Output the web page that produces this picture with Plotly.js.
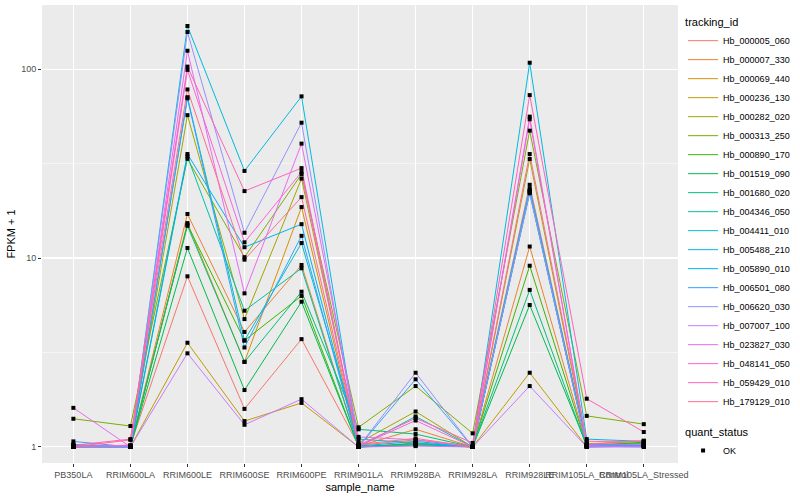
<!DOCTYPE html>
<html>
<head>
<meta charset="utf-8">
<script src="https://cdn.plot.ly/plotly-3.0.1.min.js"></script>
<style>html,body{margin:0;padding:0;background:#fff;}#chart{width:800px;height:500px;}</style>
</head>
<body>
<div id="chart"></div>
<script>
// categories (x axis)
const sample_name = ["PB350LA","RRIM600LA","RRIM600LE","RRIM600SE","RRIM600PE","RRIM901LA","RRIM928BA","RRIM928LA","RRIM928LE","RRIM105LA_Control","RRIM105LA_Stressed"];

// tracking ids (series names)
const tracking_id = ["Hb_000005_060","Hb_000007_330","Hb_000069_440","Hb_000236_130","Hb_000282_020","Hb_000313_250","Hb_000890_170","Hb_001519_090","Hb_001680_020","Hb_004346_050","Hb_004411_010","Hb_005488_210","Hb_005890_010","Hb_006501_080","Hb_006620_030","Hb_007007_100","Hb_023827_030","Hb_048141_050","Hb_059429_010","Hb_179129_010"];

// FPKM + 1 values per series, in sample_name order
const Hb_000005_060 = [1.01, 1.02, 8.0, 1.59, 3.72, 1.02, 1.09, 1.01, 24.4, 1.03, 1.05];
const Hb_000007_330 = [1.0, 1.01, 17.1, 4.06, 9.18, 1.01, 1.24, 1.0, 11.5, 1.02, 1.03];
const Hb_000069_440 = [1.0, 1.0, 15.3, 2.82, 18.6, 1.0, 1.05, 1.0, 22.6, 1.01, 1.02];
const Hb_000236_130 = [1.0, 1.0, 3.56, 1.37, 1.71, 1.0, 1.02, 1.0, 2.47, 1.0, 1.01];
const Hb_000282_020 = [1.02, 1.01, 57, 4.75, 26.3, 1.05, 1.54, 1.0, 33.4, 1.04, 1.07];
const Hb_000313_250 = [1.41, 1.29, 33.5, 10.1, 27.8, 1.27, 2.10, 1.18, 47.2, 1.46, 1.32];
const Hb_000890_170 = [1.0, 1.0, 15.0, 3.66, 6.30, 1.0, 1.03, 1.0, 9.1, 1.01, 1.06];
const Hb_001519_090 = [1.0, 1.0, 11.3, 2.0, 5.87, 1.0, 1.04, 1.0, 5.64, 1.02, 1.04];
const Hb_001680_020 = [1.0, 1.01, 14.8, 2.82, 6.63, 1.24, 1.17, 1.0, 6.78, 1.0, 1.03];
const Hb_004346_050 = [1.0, 1.0, 34.5, 5.26, 8.82, 1.0, 1.45, 1.0, 22.0, 1.01, 1.02];
const Hb_004411_010 = [1.01, 1.0, 71, 3.66, 12.0, 1.10, 1.05, 1.0, 23.3, 1.02, 1.01];
const Hb_005488_210 = [1.03, 1.0, 169, 28.9, 71.7, 1.0, 1.03, 1.01, 108, 1.10, 1.07];
const Hb_005890_010 = [1.02, 1.01, 35.5, 11.4, 15.1, 1.01, 1.07, 1.0, 22.9, 1.03, 1.02];
const Hb_006501_080 = [1.07, 1.0, 70, 3.36, 13.1, 1.0, 2.28, 1.0, 22.5, 1.01, 1.0];
const Hb_006620_030 = [1.0, 1.0, 157, 13.6, 52, 1.0, 2.47, 1.0, 22.2, 1.0, 1.01];
const Hb_007007_100 = [1.0, 1.0, 3.13, 1.31, 1.79, 1.0, 1.01, 1.0, 2.10, 1.0, 1.0];
const Hb_023827_030 = [1.61, 1.0, 125, 6.5, 40.3, 1.13, 1.09, 1.0, 56, 1.02, 1.03];
const Hb_048141_050 = [1.01, 1.02, 99, 12.1, 28.5, 1.01, 1.38, 1.0, 54.2, 1.03, 1.08];
const Hb_059429_010 = [1.02, 1.10, 103, 22.6, 29.9, 1.02, 1.42, 1.05, 72.8, 1.80, 1.20];
const Hb_179129_010 = [1.0, 1.09, 78, 9.8, 21.0, 1.03, 1.11, 1.0, 35.5, 1.07, 1.07];

const seriesValues = [Hb_000005_060, Hb_000007_330, Hb_000069_440, Hb_000236_130, Hb_000282_020,
  Hb_000313_250, Hb_000890_170, Hb_001519_090, Hb_001680_020, Hb_004346_050, Hb_004411_010,
  Hb_005488_210, Hb_005890_010, Hb_006501_080, Hb_006620_030, Hb_007007_100, Hb_023827_030,
  Hb_048141_050, Hb_059429_010, Hb_179129_010];

const quant_status = ["OK"];

// ggplot2 default hue palette for 20 levels
const palette = ["#F8766D","#EA8331","#D89000","#C09B00","#A3A500","#7CAE00","#39B600","#00BB4E","#00BF7D","#00C1A3","#00BFC4","#00BAE0","#00B0F6","#35A2FF","#9590FF","#C77CFF","#E76BF3","#FA62DB","#FF62BC","#FF6C91"];

const traces = tracking_id.map((id, i) => ({
  type: 'scatter', mode: 'lines', name: id,
  x: sample_name, y: seriesValues[i],
  line: {color: palette[i], width: 1},
  legend: 'legend', showlegend: true
}));

const allX = [], allY = [];
seriesValues.forEach(vals => vals.forEach((v, j) => { allX.push(sample_name[j]); allY.push(v); }));
traces.push({
  type: 'scatter', mode: 'markers', name: quant_status[0],
  x: allX, y: allY,
  marker: {color: 'black', symbol: 'square', size: 4},
  legend: 'legend2', showlegend: true
});

const font = 'Liberation Sans, Arial, Helvetica, sans-serif';
const layout = {
  width: 800, height: 500,
  margin: {l: 42, r: 116, t: 5, b: 37},
  paper_bgcolor: 'white', plot_bgcolor: '#EBEBEB',
  font: {family: font, size: 9, color: '#4D4D4D'},
  showlegend: true,
  xaxis: {
    type: 'category', categoryorder: 'array', categoryarray: sample_name,
    range: [-0.55, 10.6], tickangle: 0,
    showgrid: true, gridcolor: 'white', gridwidth: 1.1, zeroline: false, showline: false,
    ticks: 'outside', ticklen: 3, tickcolor: '#333333', tickwidth: 1,
    tickfont: {family: font, size: 9, color: '#4D4D4D'},
    title: {text: 'sample_name', font: {family: font, size: 11, color: 'black'}, standoff: 4}
  },
  yaxis: {
    type: 'log', range: [-0.085, 2.339],
    tickvals: [1, 10, 100], ticktext: ['1', '10', '100'],
    showgrid: true, gridcolor: 'white', gridwidth: 1.1, zeroline: false, showline: false,
    minor: {tickvals: [Math.sqrt(10), Math.sqrt(1000)], showgrid: true, gridcolor: 'white', gridwidth: 0.5, ticklen: 0},
    ticks: 'outside', ticklen: 3, tickcolor: '#333333', tickwidth: 1,
    tickfont: {family: font, size: 9, color: '#4D4D4D'},
    title: {text: 'FPKM + 1', font: {family: font, size: 11, color: 'black'}, standoff: 3}
  },
  legend: {
    x: 1.008, xanchor: 'left', y: 0.985, yanchor: 'top',
    bgcolor: 'rgba(0,0,0,0)', tracegroupgap: 0,
    title: {text: 'tracking_id', font: {family: font, size: 11, color: 'black'}},
    font: {family: font, size: 9, color: 'black'}
  },
  legend2: {
    x: 1.008, xanchor: 'left', y: 0.09, yanchor: 'top',
    bgcolor: 'rgba(0,0,0,0)',
    title: {text: 'quant_status', font: {family: font, size: 11, color: 'black'}},
    font: {family: font, size: 9, color: 'black'}
  }
};

Plotly.newPlot('chart', traces, layout, {staticPlot: true, displayModeBar: false});
</script>
</body>
</html>
